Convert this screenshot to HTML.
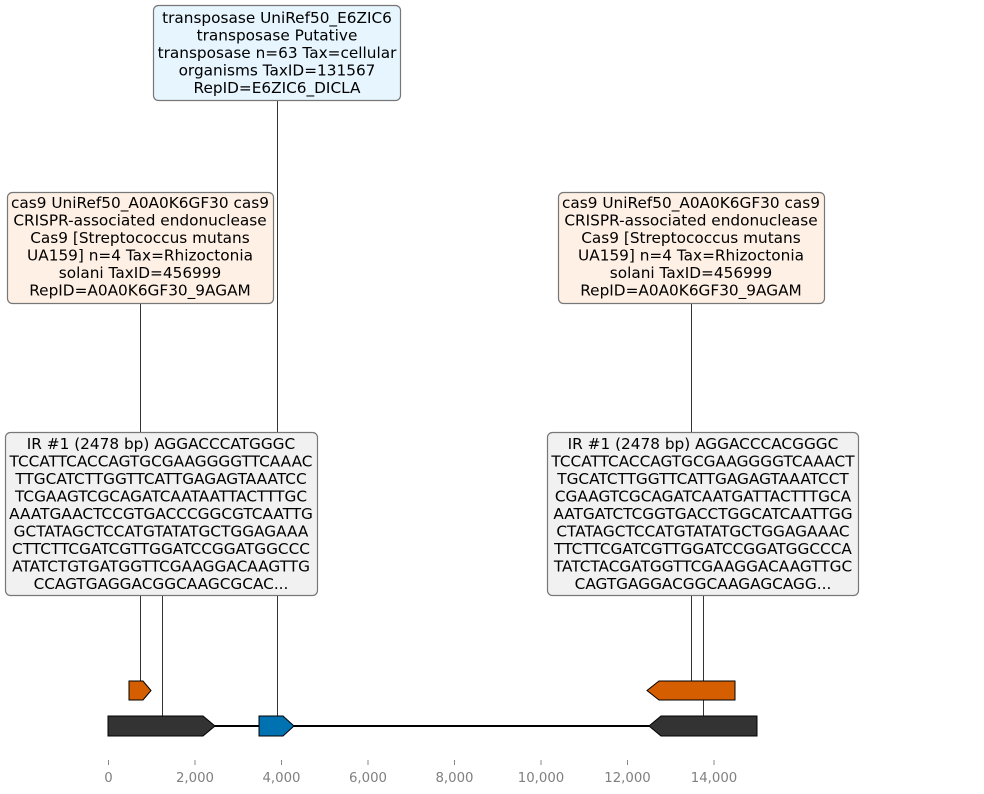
<!DOCTYPE html>
<html><head><meta charset="utf-8"><style>
html,body{margin:0;padding:0;background:#fff;}
svg{display:block;}
text{font-family:"DejaVu Sans","Liberation Sans",sans-serif;}
</style></head><body>
<svg width="984" height="794" viewBox="0 0 984 794" xmlns="http://www.w3.org/2000/svg">
<g stroke="#333" stroke-width="1" fill="none">
<line x1="277.5" y1="100" x2="277.5" y2="717"/>
<line x1="140.5" y1="303" x2="140.5" y2="681"/>
<line x1="162.5" y1="595" x2="162.5" y2="716"/>
<line x1="691.5" y1="303" x2="691.5" y2="681"/>
<line x1="703.5" y1="595" x2="703.5" y2="716"/>
</g>
<line x1="108" y1="726" x2="757" y2="726" stroke="#000" stroke-width="2"/>
<g stroke="#000" stroke-width="1">
<polygon points="108,716 203,716 215,726 203,736 108,736" fill="#333"/>
<polygon points="259,716 283,716 294,726 283,736 259,736" fill="#0072b2"/>
<polygon points="757,716 661,716 649,726 661,736 757,736" fill="#333"/>
<polygon points="129,681 143,681 151,690.5 143,700 129,700" fill="#d55e00"/>
<polygon points="735,681 659,681 647,690.5 659,700 735,700" fill="#d55e00"/>
</g>
<g stroke="#777" stroke-width="1.2">
<rect x="153.5" y="5.5" width="247" height="95" rx="5" fill="#e6f5fe"/>
<rect x="7.5" y="192.5" width="266" height="111" rx="5" fill="#fff0e5"/>
<rect x="558.5" y="192.5" width="266" height="111" rx="5" fill="#fff0e5"/>
<rect x="5.5" y="432.5" width="312" height="163" rx="5" fill="#f1f1f1"/>
<rect x="547.5" y="432.5" width="311" height="163" rx="5" fill="#f1f1f1"/>
</g>
<g font-size="15.3" fill="#000" text-anchor="middle">
<text x="277" y="23">transposase UniRef50_E6ZIC6</text>
<text x="277" y="40.5">transposase Putative</text>
<text x="277" y="58">transposase n=63 Tax=cellular</text>
<text x="277" y="75.5">organisms TaxID=131567</text>
<text x="277" y="93">RepID=E6ZIC6_DICLA</text>

<text x="140" y="208">cas9 UniRef50_A0A0K6GF30 cas9</text>
<text x="140" y="225.5">CRISPR-associated endonuclease</text>
<text x="140" y="243">Cas9 [Streptococcus mutans</text>
<text x="140" y="260.5">UA159] n=4 Tax=Rhizoctonia</text>
<text x="140" y="278">solani TaxID=456999</text>
<text x="140" y="295.5">RepID=A0A0K6GF30_9AGAM</text>

<text x="691" y="208">cas9 UniRef50_A0A0K6GF30 cas9</text>
<text x="691" y="225.5">CRISPR-associated endonuclease</text>
<text x="691" y="243">Cas9 [Streptococcus mutans</text>
<text x="691" y="260.5">UA159] n=4 Tax=Rhizoctonia</text>
<text x="691" y="278">solani TaxID=456999</text>
<text x="691" y="295.5">RepID=A0A0K6GF30_9AGAM</text>

<text x="161" y="449">IR #1 (2478 bp) AGGACCCATGGGC</text>
<text x="161" y="466.5">TCCATTCACCAGTGCGAAGGGGTTCAAAC</text>
<text x="161" y="484">TTGCATCTTGGTTCATTGAGAGTAAATCC</text>
<text x="161" y="501.5">TCGAAGTCGCAGATCAATAATTACTTTGC</text>
<text x="161" y="519">AAATGAACTCCGTGACCCGGCGTCAATTG</text>
<text x="161" y="536.5">GCTATAGCTCCATGTATATGCTGGAGAAA</text>
<text x="161" y="554">CTTCTTCGATCGTTGGATCCGGATGGCCC</text>
<text x="161" y="571.5">ATATCTGTGATGGTTCGAAGGACAAGTTG</text>
<text x="161" y="589">CCAGTGAGGACGGCAAGCGCAC...</text>

<text x="703" y="449">IR #1 (2478 bp) AGGACCCACGGGC</text>
<text x="703" y="466.5">TCCATTCACCAGTGCGAAGGGGTCAAACT</text>
<text x="703" y="484">TGCATCTTGGTTCATTGAGAGTAAATCCT</text>
<text x="703" y="501.5">CGAAGTCGCAGATCAATGATTACTTTGCA</text>
<text x="703" y="519">AATGATCTCGGTGACCTGGCATCAATTGG</text>
<text x="703" y="536.5">CTATAGCTCCATGTATATGCTGGAGAAAC</text>
<text x="703" y="554">TTCTTCGATCGTTGGATCCGGATGGCCCA</text>
<text x="703" y="571.5">TATCTACGATGGTTCGAAGGACAAGTTGC</text>
<text x="703" y="589">CAGTGAGGACGGCAAGAGCAGG...</text>
</g>
<g stroke="#888" stroke-width="1">
<line x1="108.5" y1="760" x2="108.5" y2="765"/>
<line x1="195" y1="760" x2="195" y2="765"/>
<line x1="281.5" y1="760" x2="281.5" y2="765"/>
<line x1="368" y1="760" x2="368" y2="765"/>
<line x1="454.5" y1="760" x2="454.5" y2="765"/>
<line x1="541" y1="760" x2="541" y2="765"/>
<line x1="627.5" y1="760" x2="627.5" y2="765"/>
<line x1="714" y1="760" x2="714" y2="765"/>
</g>
<g font-size="13.3" fill="#808080" text-anchor="middle">
<text x="108.5" y="782">0</text>
<text x="195" y="782">2,000</text>
<text x="281.5" y="782">4,000</text>
<text x="368" y="782">6,000</text>
<text x="454.5" y="782">8,000</text>
<text x="541" y="782">10,000</text>
<text x="627.5" y="782">12,000</text>
<text x="714" y="782">14,000</text>
</g>
</svg>
</body></html>
